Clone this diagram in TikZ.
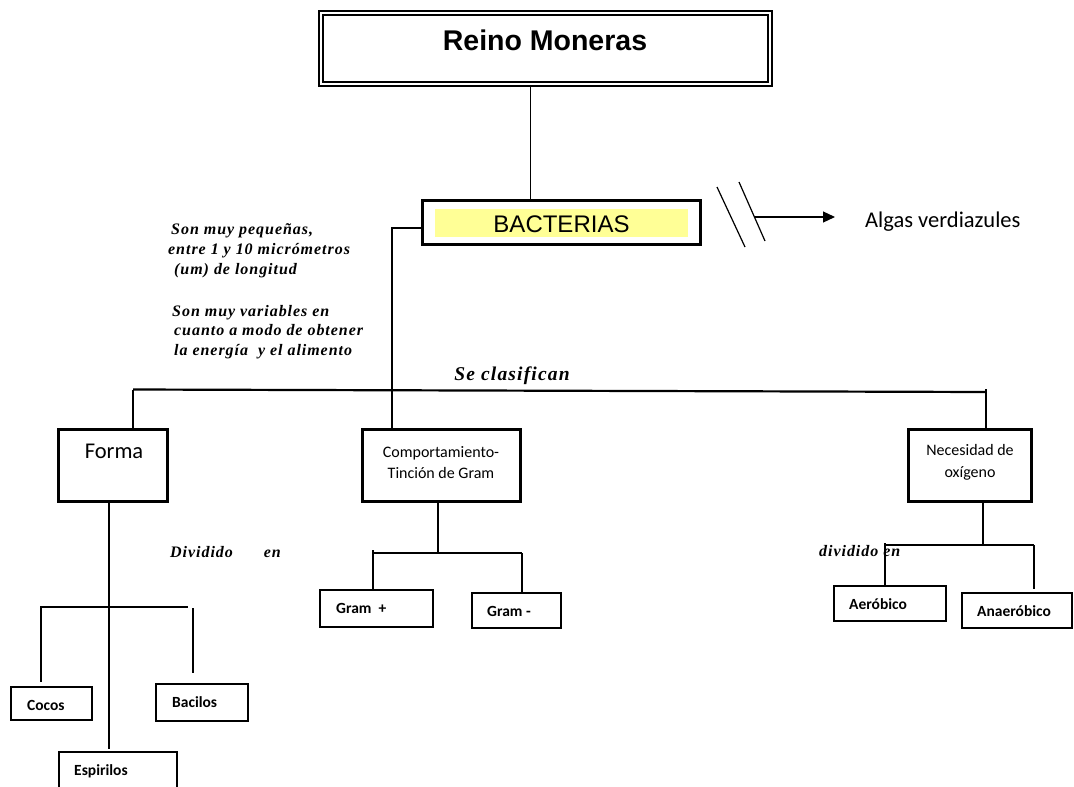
\documentclass[tikz,border=0pt]{standalone}
\usepackage{fontspec}
\setmainfont{Liberation Serif}
\newfontfamily\arialf{Liberation Sans}
\newfontfamily\calf{Carlito}
\newfontfamily\notef[LetterSpace=6]{Liberation Serif}
\usetikzlibrary{arrows.meta,calc}
\definecolor{hlyellow}{RGB}{255,255,150}

\begin{document}
\begin{tikzpicture}[x=1pt,y=-1pt,
  conn/.style={line width=1.2pt},
  mainline/.style={line width=2.2pt},
  box/.style={draw, inner sep=0pt, minimum width=#1},
  bigbox/.style={box=#1, line width=2.8pt, minimum height=72.2pt},
  smallbox/.style={box=#1, line width=1.6pt},
  notes/.style={anchor=base west, inner sep=0pt, font=\notef\bfseries\itshape\fontsize{16}{20}\selectfont},
  boxtxt/.style={anchor=base, inner sep=0pt, font=\calf\fontsize{16}{20}\selectfont},
  leaftxt/.style={anchor=base west, inner sep=0pt, font=\calf\bfseries\fontsize{15.5}{19}\selectfont}
]
\useasboundingbox (0,0) rectangle (1074,787);

% --- title and main group ---
\node[draw, line width=1.6pt, double, double distance=2.4pt, inner sep=0pt,
      minimum width=449.5pt, minimum height=71.5pt] (reino) at (545.5,48.5) {};
\node[anchor=base, inner sep=0pt, font=\arialf\bfseries\fontsize{28.5}{34}\selectfont]
      (reinot) at (545,50) {Reino Moneras};

\node[box=278.4pt, line width=2.6pt, minimum height=44.4pt] (bact) at (561.5,222.5) {};
\fill[hlyellow] ([xshift=14pt,yshift=-10pt]bact.north west) rectangle ([xshift=-14pt,yshift=9pt]bact.south east);
\node[anchor=base, inner sep=0pt, font=\arialf\fontsize{24}{28}\selectfont]
      (bactt) at (561.5,232) {BACTERIAS};

\draw[conn] ([xshift=-15pt]reino.south) -- ([xshift=-15pt]reino.south |- bact.north);

% --- break mark and arrow to the algae ---
\coordinate (b1a) at (717,187);
\coordinate (b1b) at (745,247);
\coordinate (b2a) at (739,182);
\coordinate (b2b) at (765,241);
\draw[conn] (b1a) -- (b1b);
\draw[conn] (b2a) -- (b2b);
\coordinate (brk) at (754.5,217);
\coordinate (tip) at (835,217);
\draw[conn, -{Triangle[length=12pt,width=11pt]}] (brk) -- (tip);
\node[anchor=base west, inner sep=0pt, font=\calf\fontsize{22.5}{27}\selectfont]
      (algas) at (865,227) {Algas verdiazules};

% --- description notes ---
\node[notes] (n1) at (171,234) {Son muy pequeñas,};
\node[notes] (n2) at (168,254) {entre 1 y 10 micrómetros};
\node[notes] (n3) at (174,274) {(um) de longitud};
\node[notes] (n4) at (172,316) {Son muy variables en};
\node[notes] (n5) at (174,335) {cuanto a modo de obtener};
\node[notes] (n6) at (174,355) {la energía\ \ y el alimento};

\node[anchor=base, inner sep=0pt, font=\notef\bfseries\itshape\fontsize{19.5}{23}\selectfont]
      (clas) at (512,380) {Se clasifican};

% --- classification criteria ---
\node[bigbox=109pt, line width=3pt, minimum height=72pt] (forma) at (113,465.5) {};
\node[anchor=base, inner sep=0pt, font=\calf\fontsize{22.5}{27}\selectfont] (format) at (114,458) {Forma};

\node[bigbox=158.2pt] (comp) at (441.5,465.5) {};
\node[boxtxt] (compa) at (441,457) {Comportamiento-};
\node[boxtxt] (compb) at (441,478) {Tinción de Gram};

\node[bigbox=123.2pt] (nec) at (970,465.5) {};
\node[boxtxt] (neca) at (970,455) {Necesidad de};
\node[boxtxt] (necb) at (970,477) {oxígeno};

\coordinate (hl) at (133,389.5);
\coordinate (hr) at (986,392);
\draw[mainline] (hl) -- (hr);
\draw[conn] (hl) -- ([xshift=20pt]forma.north);
\draw[conn] ([yshift=3pt]hr) -- ([xshift=16pt]nec.north);
\draw[conn] ([yshift=-5.5pt]bact.west) -| ([xshift=-49.5pt]comp.north);

% --- shape branch ---
\node[smallbox=81.4pt, minimum height=33.4pt] (cocos) at (51.5,703.5) {};
\node[smallbox=92.4pt, minimum height=37.4pt] (bac) at (202,702.5) {};
\node[smallbox=118.4pt, minimum height=47.4pt] (espir) at (118,775.5) {};
\node[leaftxt] (cocost) at (27,710) {Cocos};
\node[leaftxt] (bact2) at (172,707) {Bacilos};
\node[leaftxt] (espirt) at (74,775) {Espirilos};

\coordinate (fj) at (109,607);
\coordinate (fl) at (40,607);
\coordinate (fr) at (188,607);
\draw[conn] ([xshift=-4pt]forma.south) -- (fj) -- ([xshift=-9pt,yshift=2pt]espir.north);
\draw[conn] (fl) -- (fr);
\draw[conn] ([xshift=-10.5pt]cocos.north |- fl) -- ([xshift=-10.5pt,yshift=4pt]cocos.north);
\draw[conn] ([xshift=-9pt,yshift=-1pt]bac.north |- fl) -- ([xshift=-9pt,yshift=10pt]bac.north);
\node[notes] (div1) at (170,557) {Dividido\hspace*{31pt}en};

% --- Gram branch ---
\node[smallbox=113.4pt, minimum height=37.4pt] (gp) at (376.5,608.5) {};
\node[smallbox=89.4pt, minimum height=35.4pt] (gm) at (516.5,610.5) {};
\node[leaftxt] (gpt) at (336,613) {Gram\ \ +};
\node[leaftxt] (gmt) at (487,616) {Gram -};

\coordinate (cj) at (438,553);
\coordinate (cl) at (373,553);
\coordinate (cr) at (522,553);
\draw[conn] ([xshift=-3.5pt]comp.south) -- (cj);
\draw[conn] (cl) -- (cr);
\draw[conn] ([yshift=3pt]cl) -- (cl |- gp.north);
\draw[conn] (cr) -- (cr |- gm.north);

% --- oxygen branch ---
\node[smallbox=112.4pt, minimum height=35.4pt] (aer) at (890,603.5) {};
\node[smallbox=110.4pt, minimum height=35.4pt] (ana) at (1017,610.5) {};
\node[leaftxt] (aert) at (849,609) {Aeróbico};
\node[leaftxt] (anat) at (977,616) {Anaeróbico};

\coordinate (nj) at (983,545);
\coordinate (nl) at (885,545);
\coordinate (nr) at (1034,545);
\draw[conn] ([xshift=13pt]nec.south) -- (nj);
\draw[conn] (nl) -- (nr);
\draw[conn] ([yshift=2pt]nl) -- (nl |- aer.north);
\draw[conn] (nr) -- ([yshift=3pt]nr |- ana.north);
\node[notes] (div2) at (819,556) {dividido en};
\end{tikzpicture}
\end{document}
